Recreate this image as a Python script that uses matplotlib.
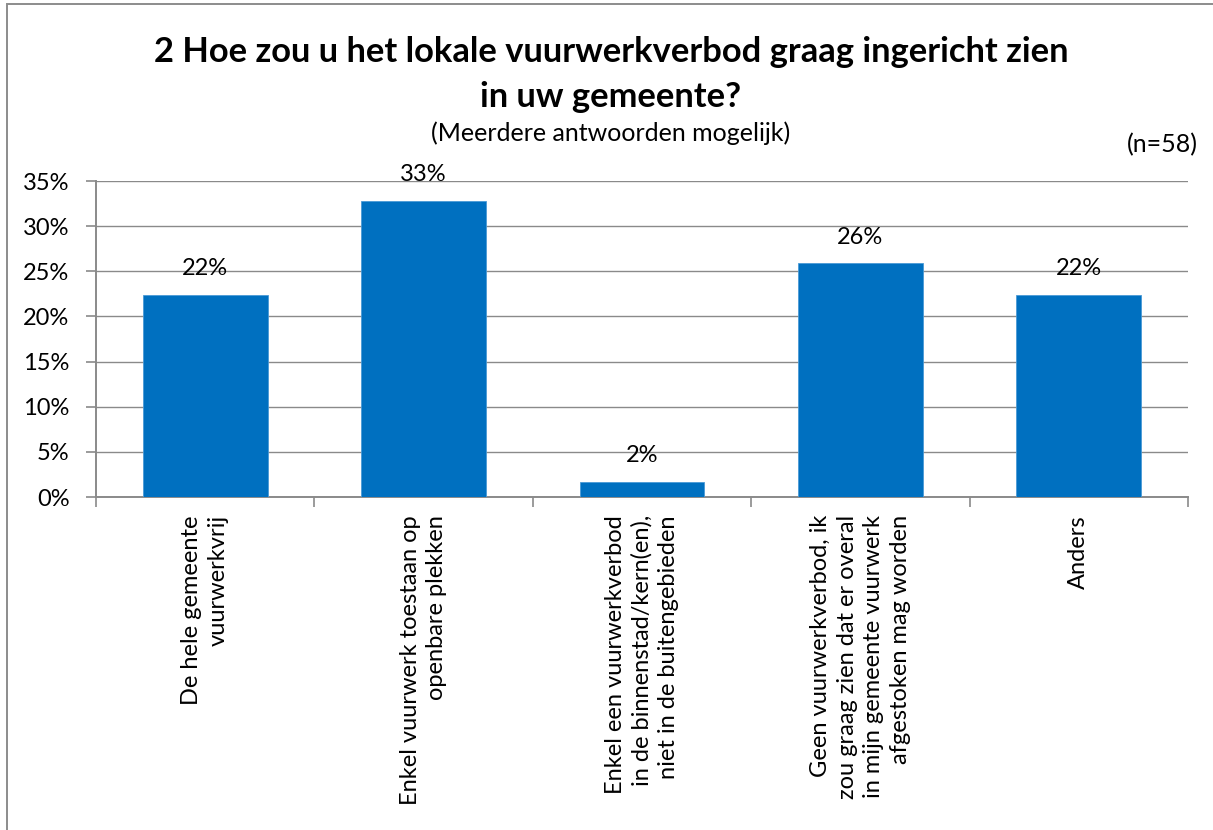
import matplotlib
matplotlib.use("Agg")
import matplotlib.pyplot as plt
from matplotlib.patches import Rectangle

categories = [
    "De hele gemeente\nvuurwerkvrij",
    "Enkel vuurwerk toestaan op\nopenbare plekken",
    "Enkel een vuurwerkverbod\nin de binnenstad/kern(en),\nniet in de buitengebieden",
    "Geen vuurwerkverbod, ik\nzou graag zien dat er overal\nin mijn gemeente vuurwerk\nafgestoken mag worden",
    "Anders",
]
values = [22.4, 32.8, 1.7, 25.9, 22.4]
value_labels = ["22%", "33%", "2%", "26%", "22%"]
yticks = [0, 5, 10, 15, 20, 25, 30, 35]
ytick_labels = ["0%", "5%", "10%", "15%", "20%", "25%", "30%", "35%"]

plt.rcParams['font.family'] = ['Lato', 'DejaVu Sans']

W, H = 1213, 830
fig = plt.figure(figsize=(W / 100, H / 100), dpi=100)
fig.patch.set_facecolor('white')

# outer chart border (only left & top visible)
fig.patches.append(Rectangle((6.5 / W, -0.2), 1.5, (H - 4.5) / H + 0.2,
                             transform=fig.transFigure, fill=False,
                             edgecolor='#8c8c8c', linewidth=1.4))

left, right, top, bottom = 96, 1188, 181, 497
ax = fig.add_axes([left / W, 1 - bottom / H, (right - left) / W, (bottom - top) / H])

n = len(categories)
x = list(range(n))
ax.bar(x, values, width=0.572, color='#0070C0', edgecolor='#4a9ad6',
       linewidth=0.6, zorder=3)

ax.set_xlim(-0.5, n - 0.5)
ax.set_ylim(0, 35)
ax.set_yticks(yticks)
ax.set_yticklabels(ytick_labels, fontsize=17)
ax.grid(axis='y', color='#8a8a8a', linewidth=1.0, zorder=0)
ax.set_axisbelow(True)

# major ticks at category boundaries, labels at centres (minor)
ax.set_xticks([i - 0.5 for i in range(n + 1)])
ax.set_xticklabels([])
ax.set_xticks(x, minor=True)
ax.set_xticklabels(categories, minor=True, rotation=90, fontsize=17,
                   ha='center', va='top')
for lbl in ax.get_xticklabels(minor=True):
    lbl.set_multialignment('right')
    lbl.set_linespacing(1.32)
ax.tick_params(axis='x', which='major', length=7, width=1.2, color='#8a8a8a', direction='out')
ax.tick_params(axis='x', which='minor', length=0, pad=13)
ax.tick_params(axis='y', length=7, width=1.2, color='#8a8a8a', pad=12)

for s in ['top', 'right']:
    ax.spines[s].set_visible(False)
for s in ['left', 'bottom']:
    ax.spines[s].set_color('#8a8a8a')
    ax.spines[s].set_linewidth(1.4)

for xi, v, lab in zip(x, values, value_labels):
    ax.annotate(lab, (xi, v), xytext=(0, 14), textcoords='offset points',
                ha='center', va='baseline', fontsize=17, zorder=4)

fig.text(611 / W, 1 - 52 / H, "2 Hoe zou u het lokale vuurwerkverbod graag ingericht zien",
         ha='center', va='center', fontsize=24.8, fontweight='bold')
fig.text(611 / W, 1 - 97 / H, "in uw gemeente?",
         ha='center', va='center', fontsize=24.8, fontweight='bold')
fig.text(611 / W, 1 - 133 / H, "(Meerdere antwoorden mogelijk)",
         ha='center', va='center', fontsize=18)
fig.text(1198 / W, 1 - 145 / H, "(n=58)",
         ha='right', va='center', fontsize=18)

fig.savefig("out.png", dpi=100, facecolor='white')
